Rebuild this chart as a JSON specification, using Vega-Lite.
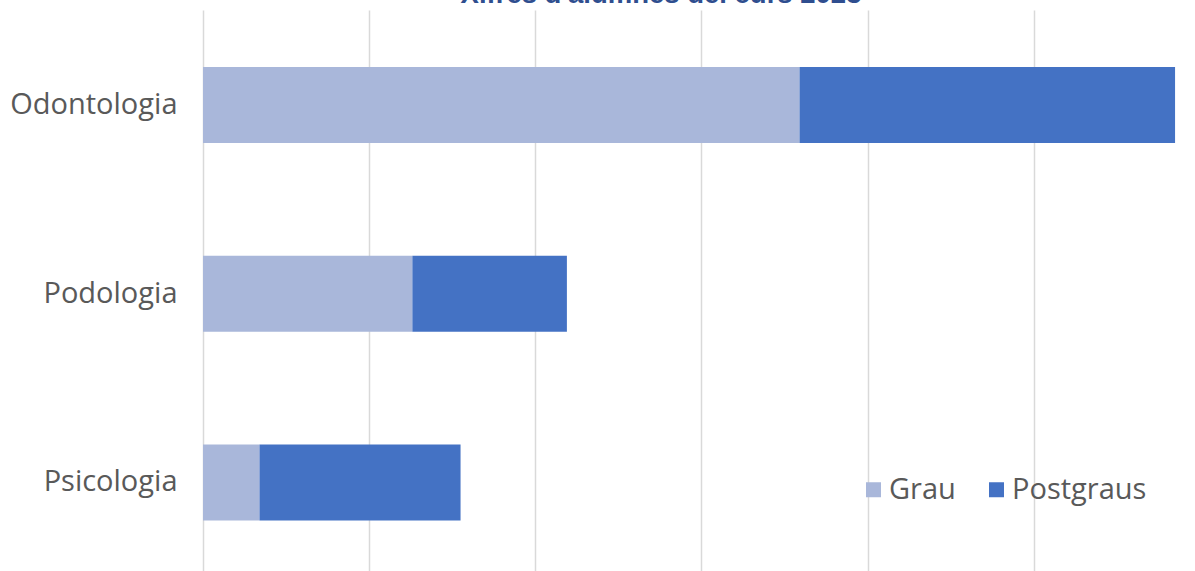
{
  "$schema": "https://vega.github.io/schema/vega-lite/v6.json",
  "autosize": "none",
  "width": 992,
  "height": 561,
  "padding": {"left": 203, "top": 10, "right": 0, "bottom": 0},
  "background": "white",
  "title": {
    "text": "Xifres d'alumnes del curs 2023",
    "font": "Liberation Sans",
    "fontSize": 27.5,
    "fontWeight": "bold",
    "color": "#2F4E8F",
    "anchor": "middle",
    "baseline": "alphabetic",
    "frame": "group",
    "dx": -38,
    "offset": 0,
    "dy": 20
  },
  "data": {
    "values": [
      {"estudis": "Odontologia", "tipus": "Grau", "alumnes": 359},
      {"estudis": "Odontologia", "tipus": "Postgraus", "alumnes": 226},
      {"estudis": "Podologia", "tipus": "Grau", "alumnes": 126},
      {"estudis": "Podologia", "tipus": "Postgraus", "alumnes": 93},
      {"estudis": "Psicologia", "tipus": "Grau", "alumnes": 34},
      {"estudis": "Psicologia", "tipus": "Postgraus", "alumnes": 121}
    ]
  },
  "mark": {"type": "bar"},
  "encoding": {
    "y": {
      "field": "estudis",
      "type": "nominal",
      "sort": ["Odontologia", "Podologia", "Psicologia"],
      "scale": {"paddingInner": 0.597, "paddingOuter": 0.285, "align": 0.53},
      "axis": {
        "title": null,
        "ticks": false,
        "domain": false,
        "labelFont": "Open Sans",
        "labelFontSize": 29,
        "labelColor": "#595959",
        "labelPadding": 26
      }
    },
    "x": {
      "field": "alumnes",
      "type": "quantitative",
      "stack": "zero",
      "scale": {"domain": [0, 597], "nice": false},
      "axis": {
        "title": null,
        "values": [0, 100, 200, 300, 400, 500],
        "labels": false,
        "ticks": false,
        "domain": false,
        "gridColor": "#D9D9D9",
        "gridWidth": 1.5
      }
    },
    "color": {
      "field": "tipus",
      "type": "nominal",
      "scale": {"domain": ["Grau", "Postgraus"], "range": ["#A9B7DA", "#4472C4"]},
      "legend": {
        "title": null,
        "orient": "none",
        "direction": "horizontal",
        "legendX": 656,
        "legendY": 465,
        "padding": 0,
        "symbolType": "square",
        "symbolSize": 225,
        "symbolStrokeWidth": 0,
        "labelFont": "Open Sans",
        "labelFontSize": 29,
        "labelColor": "#595959",
        "labelOffset": 1,
        "columnPadding": 26
      }
    },
    "order": {"field": "tipus", "sort": "ascending"}
  },
  "config": {"view": {"stroke": null}}
}
